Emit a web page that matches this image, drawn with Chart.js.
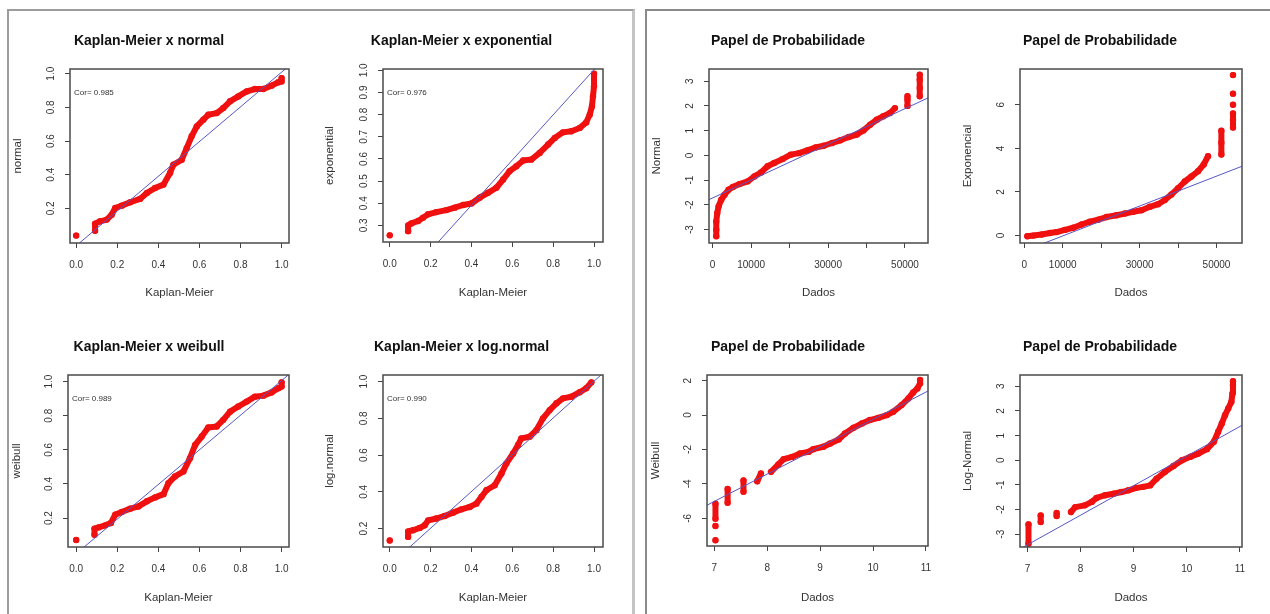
<!DOCTYPE html>
<html lang="pt">
<head>
<meta charset="UTF-8">
<title>Papel de Probabilidade</title>
<script src="https://cdn.jsdelivr.net/npm/chart.js"></script>
<style>
  html, body { margin: 0; padding: 0; overflow: hidden; background: #fff; }
  body { position: relative; width: 1270px; height: 614px; }
  .painel { position: absolute; border: 2px solid #9c9c9c; border-bottom: none; }
  #painelEsq { left: 7px; top: 9px; width: 623px; height: 640px; border-right: 3px solid #c4c4c4; }
  #painelDir { left: 645px; top: 9px; width: 700px; height: 640px; border-color: #8a8a8a; }
  canvas { position: absolute; }
</style>
</head>
<body>
<div class="painel" id="painelEsq"></div>
<div class="painel" id="painelDir"></div>

<script>
// ---- dados ----
// Kaplan-Meier x normal
const kmNormalX = [0.0, null, 0.092, 0.092, 0.117, 0.149, 0.173, 0.19, 0.222, 0.263, 0.311, 0.344, 0.384, 0.425, 0.457, 0.473, 0.514, 0.538, 0.562, 0.587, 0.619, 0.643, 0.684, 0.716, 0.749, 0.789, 0.830, 0.870, 0.911, 0.951, 0.984, 1.0, 1.0];
const kmNormalY = [0.038, null, 0.067, 0.109, 0.123, 0.133, 0.162, 0.202, 0.216, 0.236, 0.256, 0.291, 0.321, 0.341, 0.410, 0.459, 0.489, 0.558, 0.628, 0.687, 0.727, 0.756, 0.766, 0.796, 0.836, 0.865, 0.895, 0.909, 0.909, 0.929, 0.949, 0.954, 0.974];
const kmNormalRetaX = [-0.05, 1.05];
const kmNormalRetaY = [-0.074, 1.061];

// Kaplan-Meier x exponential
const kmExpX = [0.0, null, 0.09, 0.09, 0.106, 0.139, 0.163, 0.188, 0.228, 0.277, 0.318, 0.359, 0.40, 0.44, 0.481, 0.522, 0.555, 0.587, 0.62, 0.653, 0.693, 0.734, 0.775, 0.808, 0.848, 0.889, 0.93, 0.962, 0.979, 0.99, 0.995, 1.0, 1.0];
const kmExpY = [0.255, null, 0.274, 0.30, 0.309, 0.320, 0.335, 0.35, 0.36, 0.369, 0.38, 0.392, 0.399, 0.425, 0.447, 0.47, 0.507, 0.545, 0.567, 0.593, 0.597, 0.627, 0.665, 0.695, 0.72, 0.725, 0.74, 0.765, 0.80, 0.838, 0.883, 0.928, 0.985];
const kmExpRetaX = [0.2, 1.05];
const kmExpRetaY = [0.187, 1.054];

// Kaplan-Meier x weibull
const kmWeibullX = [0.0, null, 0.089, 0.089, 0.109, 0.141, 0.169, 0.19, 0.222, 0.263, 0.303, 0.344, 0.384, 0.425, 0.449, 0.481, 0.522, 0.554, 0.579, 0.611, 0.643, 0.684, 0.716, 0.749, 0.789, 0.83, 0.87, 0.911, 0.951, 0.984, 1.0, 1.0];
const kmWeibullY = [0.071, null, 0.102, 0.138, 0.145, 0.157, 0.171, 0.22, 0.235, 0.255, 0.268, 0.298, 0.321, 0.34, 0.405, 0.444, 0.473, 0.551, 0.629, 0.678, 0.731, 0.737, 0.776, 0.824, 0.854, 0.883, 0.912, 0.918, 0.937, 0.961, 0.971, 0.996];
const kmWeibullRetaX = [-0.05, 1.05];
const kmWeibullRetaY = [-0.060, 1.057];

// Kaplan-Meier x log.normal
const kmLogNormalX = [0.0, null, 0.09, 0.09, 0.114, 0.147, 0.171, 0.188, 0.228, 0.269, 0.31, 0.351, 0.392, 0.424, 0.449, 0.473, 0.514, 0.547, 0.571, 0.604, 0.628, 0.644, 0.685, 0.718, 0.75, 0.783, 0.816, 0.848, 0.889, 0.93, 0.962, 0.987];
const kmLogNormalY = [0.135, null, 0.155, 0.185, 0.191, 0.204, 0.218, 0.245, 0.255, 0.269, 0.287, 0.305, 0.318, 0.336, 0.373, 0.409, 0.436, 0.50, 0.555, 0.609, 0.655, 0.691, 0.70, 0.736, 0.80, 0.845, 0.882, 0.909, 0.918, 0.942, 0.964, 0.996];
const kmLogNormalRetaX = [-0.05, 1.05];
const kmLogNormalRetaY = [-0.048, 1.052];

// Papel de probabilidade - Normal
const ppNormalX = [946, 946, 946, 1200, 1550, 2240, 3100, 4130, 5250, 6970, 9120, 10840, 12560, 14280, 16000, 18150, 20300, 22450, 24600, 26750, 28900, 31050, 33200, 35350, 37500, 39200, 40940, 42660, 44380, 46100, 47390, null, 50650, 50650, 50650, null, 53840, 53840, 53840, 53840];
const ppNormalY = [-3.27, -3.0, -2.67, -2.33, -2.06, -1.79, -1.59, -1.39, -1.28, -1.16, -1.05, -0.85, -0.69, -0.44, -0.31, -0.15, 0.03, 0.09, 0.2, 0.32, 0.39, 0.5, 0.61, 0.74, 0.84, 1.01, 1.24, 1.44, 1.58, 1.71, 1.91, null, 2.0, 2.25, 2.39, null, 2.39, 2.72, 3.06, 3.26];
const ppNormalRetaX = [-2000, 60000];
const ppNormalRetaY = [-1.864, 2.61];

// Papel de probabilidade - Exponencial
const ppExpX = [780, 2340, 4500, 6670, 8400, 10560, 12730, 14900, 17060, 19230, 21390, 24000, 26150, 28320, 30480, 32650, 34810, 36550, 38280, 40010, 41740, 43470, 45200, 46680, 47800, null, 51270, 51270, 51270, null, 54300, 54300, 54300, null, 54300, null, 54300, null, 54300];
const ppExpY = [-0.03, 0.0, 0.05, 0.12, 0.16, 0.26, 0.36, 0.51, 0.64, 0.73, 0.85, 0.93, 1.01, 1.09, 1.16, 1.32, 1.44, 1.63, 1.89, 2.17, 2.48, 2.71, 2.95, 3.26, 3.64, null, 3.72, 4.26, 4.81, null, 4.96, 5.3, 5.6, null, 6.0, null, 6.51, null, 7.36];
const ppExpRetaX = [0, 60000];
const ppExpRetaY = [-0.70, 3.41];

// Papel de probabilidade - Weibull (log dos dados)
const ppWeibullX = [7.02, null, 7.02, null, 7.02, 7.02, null, 7.25, 7.25, null, 7.55, 7.55, null, 7.81, 7.88, null, 8.07, 8.21, 8.31, 8.47, 8.62, 8.78, 8.87, 9.06, 9.19, 9.35, 9.47, 9.63, 9.79, 9.94, 10.1, 10.26, 10.38, 10.54, 10.67, 10.76, 10.84, 10.89, 10.89];
const ppWeibullY = [-7.28, null, -6.45, null, -6.02, -5.15, null, -5.1, -4.3, null, -4.45, -3.8, null, -3.85, -3.4, null, -3.3, -2.87, -2.56, -2.43, -2.23, -2.14, -1.98, -1.84, -1.65, -1.42, -1.07, -0.74, -0.49, -0.29, -0.16, 0.0, 0.19, 0.58, 0.97, 1.32, 1.55, 1.84, 2.04];
const ppWeibullRetaX = [6.5, 11.5];
const ppWeibullRetaY = [-5.81, 2.13];

// Papel de probabilidade - Log-Normal
const ppLogNormalX = [7.02, 7.02, null, 7.25, 7.25, null, 7.55, 7.55, null, 7.82, 7.90, 8.08, 8.21, 8.30, 8.46, 8.62, 8.77, 8.90, 9.05, 9.18, 9.31, 9.43, 9.59, 9.75, 9.91, 10.07, 10.22, 10.38, 10.51, 10.59, 10.66, 10.72, 10.78, 10.84, 10.86, 10.87, 10.87];
const ppLogNormalY = [-3.39, -2.6, null, -2.51, -2.24, null, -2.26, -2.14, null, -2.1, -1.9, -1.83, -1.69, -1.53, -1.42, -1.36, -1.29, -1.22, -1.12, -1.08, -1.02, -0.75, -0.47, -0.23, 0.0, 0.14, 0.27, 0.45, 0.75, 1.15, 1.49, 1.83, 2.1, 2.37, 2.71, 3.05, 3.21];
const ppLogNormalRetaX = [6.5, 11.5];
const ppLogNormalRetaY = [-4.03, 1.97];

// ticks e rotulos dos eixos
const ticksKM = [0, 0.2, 0.4, 0.6, 0.8, 1.0];
const rotulosKM = ['0.0', '0.2', '0.4', '0.6', '0.8', '1.0'];
const ticksKMy = [0.2, 0.4, 0.6, 0.8, 1.0];
const rotulosKMy = ['0.2', '0.4', '0.6', '0.8', '1.0'];
const ticksExpY = [0.3, 0.4, 0.5, 0.6, 0.7, 0.8, 0.9, 1.0];
const rotulosExpY = ['0.3', '0.4', '0.5', '0.6', '0.7', '0.8', '0.9', '1.0'];
const ticksDados = [0, 10000, 20000, 30000, 40000, 50000];
const rotulosDados = ['0', '10000', '', '30000', '', '50000'];
const ticksLogDados = [7, 8, 9, 10, 11];
const rotulosLogDados = ['7', '8', '9', '10', '11'];
const ticksTres = [-3, -2, -1, 0, 1, 2, 3];
const rotulosTres = ['-3', '-2', '-1', '0', '1', '2', '3'];
const ticksExpPP = [0, 2, 4, 6];
const rotulosExpPP = ['0', '2', '4', '6'];
const ticksWeiPP = [-6, -4, -2, 0, 2];
const rotulosWeiPP = ['-6', '-4', '-2', '0', '2'];

const correlacoes = ['Cor= 0.985', 'Cor= 0.976', 'Cor= 0.989', 'Cor= 0.990'];

// ---- desenho ----
const FONTE = "'Liberation Sans', Arial, sans-serif";
const vermelho = '#f01010';
const azul = '#5656c8';

const medidor = document.createElement('canvas').getContext('2d');
medidor.font = '10px ' + FONTE;

function pares(xs, ys) {
    return xs.map((x, i) => ({ x: x, y: ys[i] }));
}

function desenha(p) {
    const cx = (p.box.l + p.box.r) / 2;
    const w = Math.round(2 * (cx - p.cell.l));
    const h = p.cell.h;
    const cv = document.createElement('canvas');
    cv.width = w; cv.height = h;
    cv.style.left = p.cell.l + 'px';
    cv.style.top = p.cell.t + 'px';
    cv.style.width = w + 'px';
    cv.style.height = h + 'px';
    document.body.appendChild(cv);

    const lhTitulo = 14 * 1.2;
    const lhEixo = 11.5 * 1.2;
    const padTopo = p.tituloY - p.cell.t - lhTitulo / 2;
    const padBase = (p.box.t - p.cell.t) - padTopo - lhTitulo;
    const alturaX = p.cell.t + h - p.box.b;
    const larguraY = p.box.l - p.cell.l;
    const maisLargo = Math.max(...p.yRot.map(t => medidor.measureText(t).width));

    const moldura = {
        id: 'moldura',
        afterDraw(chart) {
            const a = chart.chartArea;
            const ctx = chart.ctx;
            ctx.save();
            ctx.strokeStyle = '#4a4a4a';
            ctx.lineWidth = 1.5;
            ctx.strokeRect(a.left, a.top, a.right - a.left, a.bottom - a.top);
            if (p.cor) {
                ctx.fillStyle = '#333';
                ctx.font = '8px ' + FONTE;
                ctx.textBaseline = 'middle';
                ctx.fillText(p.cor, a.left + 4, a.top + 24);
            }
            ctx.restore();
        }
    };

    new Chart(cv, {
        type: 'scatter',
        data: {
            datasets: [
                {
                    data: pares(p.retaX, p.retaY),
                    showLine: true,
                    borderColor: azul,
                    borderWidth: 1,
                    pointRadius: 0
                },
                {
                    data: pares(p.xs, p.ys),
                    showLine: true,
                    spanGaps: false,
                    borderColor: vermelho,
                    borderWidth: 6,
                    borderCapStyle: 'round',
                    borderJoinStyle: 'round',
                    pointRadius: 3.2,
                    pointBackgroundColor: vermelho,
                    pointBorderWidth: 0
                }
            ]
        },
        options: {
            responsive: false,
            animation: false,
            events: [],
            layout: { padding: { left: 0, top: 0, bottom: 0, right: w - (p.box.r - p.cell.l) } },
            plugins: {
                legend: { display: false },
                tooltip: { enabled: false },
                title: {
                    display: true,
                    text: p.titulo,
                    color: '#111',
                    font: { family: FONTE, size: 14, weight: 'bold' },
                    padding: { top: padTopo, bottom: padBase }
                }
            },
            scales: {
                x: {
                    type: 'linear',
                    position: 'bottom',
                    min: p.xMin, max: p.xMax,
                    afterBuildTicks: s => { s.ticks = p.xTicks.map(v => ({ value: v })); },
                    afterFit: s => { s.height = alturaX; },
                    border: { display: false },
                    grid: { drawOnChartArea: false, drawTicks: true, tickLength: 5, color: '#444', lineWidth: 1 },
                    ticks: {
                        autoSkip: false, maxRotation: 0, padding: 11,
                        color: '#333', font: { family: FONTE, size: 10 },
                        callback: (v, i) => p.xRot[i]
                    },
                    title: {
                        display: true, text: p.xTitulo, color: '#333',
                        font: { family: FONTE, size: 11.5 },
                        padding: { top: 0, bottom: (p.cell.t + h) - p.xTituloY - lhEixo / 2 }
                    }
                },
                y: {
                    type: 'linear',
                    position: 'left',
                    min: p.yMin, max: p.yMax,
                    afterBuildTicks: s => { s.ticks = p.yTicks.map(v => ({ value: v })); },
                    afterFit: s => { s.width = larguraY; },
                    border: { display: false },
                    grid: { drawOnChartArea: false, drawTicks: true, tickLength: 5, color: '#444', lineWidth: 1 },
                    ticks: {
                        autoSkip: false, minRotation: 90, maxRotation: 90, crossAlign: 'center',
                        padding: 19 - 5 - maisLargo / 2,
                        color: '#333', font: { family: FONTE, size: 10 },
                        callback: (v, i) => p.yRot[i]
                    },
                    title: {
                        display: true, text: p.yTitulo, color: '#333',
                        font: { family: FONTE, size: 11.5 },
                        padding: { top: p.yTituloX - p.cell.l - lhEixo / 2, bottom: 0 }
                    }
                }
            }
        },
        plugins: [moldura]
    });
}

const graficos = [
    { titulo: 'Kaplan-Meier x normal', cell: { l: 9, t: 12, h: 292 }, box: { l: 70, t: 69, r: 289, b: 243 },
      tituloY: 41, xTituloY: 293, yTituloX: 18, xTitulo: 'Kaplan-Meier', yTitulo: 'normal',
      xMin: -0.03, xMax: 1.036, yMin: -0.006, yMax: 1.028,
      xTicks: ticksKM, xRot: rotulosKM, yTicks: ticksKMy, yRot: rotulosKMy,
      xs: kmNormalX, ys: kmNormalY, retaX: kmNormalRetaX, retaY: kmNormalRetaY, cor: correlacoes[0] },
    { titulo: 'Kaplan-Meier x exponential', cell: { l: 320, t: 12, h: 292 }, box: { l: 383, t: 69, r: 603, b: 242 },
      tituloY: 41, xTituloY: 293, yTituloX: 330, xTitulo: 'Kaplan-Meier', yTitulo: 'exponential',
      xMin: -0.033, xMax: 1.044, yMin: 0.225, yMax: 1.006,
      xTicks: ticksKM, xRot: rotulosKM, yTicks: ticksExpY, yRot: rotulosExpY,
      xs: kmExpX, ys: kmExpY, retaX: kmExpRetaX, retaY: kmExpRetaY, cor: correlacoes[1] },
    { titulo: 'Kaplan-Meier x weibull', cell: { l: 9, t: 315, h: 299 }, box: { l: 68, t: 375, r: 289, b: 547 },
      tituloY: 347, xTituloY: 598, yTituloX: 17, xTitulo: 'Kaplan-Meier', yTitulo: 'weibull',
      xMin: -0.04, xMax: 1.036, yMin: 0.03, yMax: 1.039,
      xTicks: ticksKM, xRot: rotulosKM, yTicks: ticksKMy, yRot: rotulosKMy,
      xs: kmWeibullX, ys: kmWeibullY, retaX: kmWeibullRetaX, retaY: kmWeibullRetaY, cor: correlacoes[2] },
    { titulo: 'Kaplan-Meier x log.normal', cell: { l: 320, t: 315, h: 299 }, box: { l: 383, t: 375, r: 603, b: 547 },
      tituloY: 347, xTituloY: 598, yTituloX: 330, xTitulo: 'Kaplan-Meier', yTitulo: 'log.normal',
      xMin: -0.033, xMax: 1.044, yMin: 0.1, yMax: 1.036,
      xTicks: ticksKM, xRot: rotulosKM, yTicks: ticksKMy, yRot: rotulosKMy,
      xs: kmLogNormalX, ys: kmLogNormalY, retaX: kmLogNormalRetaX, retaY: kmLogNormalRetaY, cor: correlacoes[3] },
    { titulo: 'Papel de Probabilidade', cell: { l: 648, t: 12, h: 292 }, box: { l: 709, t: 69, r: 928, b: 243 },
      tituloY: 41, xTituloY: 293, yTituloX: 657, xTitulo: 'Dados', yTitulo: 'Normal',
      xMin: -946, xMax: 55986, yMin: -3.54, yMax: 3.49,
      xTicks: ticksDados, xRot: rotulosDados, yTicks: ticksTres, yRot: rotulosTres,
      xs: ppNormalX, ys: ppNormalY, retaX: ppNormalRetaX, retaY: ppNormalRetaY },
    { titulo: 'Papel de Probabilidade', cell: { l: 958, t: 12, h: 292 }, box: { l: 1020, t: 69, r: 1242, b: 243 },
      tituloY: 41, xTituloY: 293, yTituloX: 968, xTitulo: 'Dados', yTitulo: 'Exponencial',
      xMin: -1126, xMax: 56640, yMin: -0.34, yMax: 7.64,
      xTicks: ticksDados, xRot: rotulosDados, yTicks: ticksExpPP, yRot: rotulosExpPP,
      xs: ppExpX, ys: ppExpY, retaX: ppExpRetaX, retaY: ppExpRetaY },
    { titulo: 'Papel de Probabilidade', cell: { l: 648, t: 315, h: 299 }, box: { l: 707, t: 375, r: 928, b: 546 },
      tituloY: 347, xTituloY: 598, yTituloX: 656, xTitulo: 'Dados', yTitulo: 'Weibull',
      xMin: 6.86, xMax: 11.04, yMin: -7.61, yMax: 2.33,
      xTicks: ticksLogDados, xRot: rotulosLogDados, yTicks: ticksWeiPP, yRot: rotulosWeiPP,
      xs: ppWeibullX, ys: ppWeibullY, retaX: ppWeibullRetaX, retaY: ppWeibullRetaY },
    { titulo: 'Papel de Probabilidade', cell: { l: 958, t: 315, h: 299 }, box: { l: 1020, t: 375, r: 1242, b: 547 },
      tituloY: 347, xTituloY: 598, yTituloX: 968, xTitulo: 'Dados', yTitulo: 'Log-Normal',
      xMin: 6.86, xMax: 11.04, yMin: -3.52, yMax: 3.46,
      xTicks: ticksLogDados, xRot: rotulosLogDados, yTicks: ticksTres, yRot: rotulosTres,
      xs: ppLogNormalX, ys: ppLogNormalY, retaX: ppLogNormalRetaX, retaY: ppLogNormalRetaY }
];

graficos.forEach(desenha);
</script>
</body>
</html>
